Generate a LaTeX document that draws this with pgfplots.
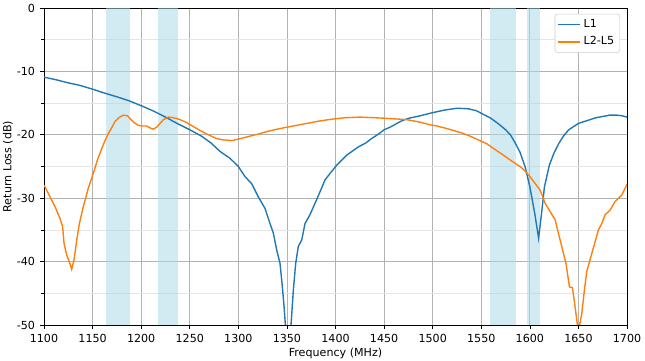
\documentclass[border=0pt]{standalone}
\usepackage{fontspec}
\setmainfont{DejaVu Sans}
\usepackage{pgfplots}
\pgfplotsset{compat=1.18}
\definecolor{tabblue}{HTML}{1F77B4}
\definecolor{taborange}{HTML}{FF7F0E}
\definecolor{bandc}{HTML}{ADD8E6}
\begin{document}
\begin{tikzpicture}[x=1pt,y=1pt]
\begin{axis}[
  at={(0,0)}, anchor=south west,
  scale only axis, width=419.8pt, height=228.2pt,
  xmin=1100, xmax=1700, ymin=-50, ymax=0,
  xtick={1100,1150,...,1700},
  ytick={-50,-40,...,0},
  minor ytick={-45,-35,...,-5},
  /pgf/number format/assume math mode=true,
  /pgf/number format/.cd, 1000 sep={}, /pgfplots/.cd,
  ticklabel style={font=\fontsize{8}{9.6}\selectfont},
  label style={font=\fontsize{8}{9.6}\selectfont},
  xlabel={Frequency (MHz)}, ylabel={Return Loss (dB)},
  xlabel style={yshift=3pt},
  ylabel style={yshift=-4pt},
  tick align=outside, tick pos=left,
  major tick length=3pt, minor tick length=1.8pt,
  tick style={black, line width=0.5pt},
  grid=both,
  major grid style={color=black!30, line width=0.6pt},
  minor grid style={color=black!10, line width=0.5pt},
  axis line style={line width=0.6pt},
  clip=true,
  legend style={at={(0.988,0.982)}, anchor=north east, draw=black!20, rounded corners=2pt,
    font=\fontsize{8}{9.6}\selectfont, row sep=1pt, inner sep=2pt},
  legend cell align=left,
  legend image code/.code={\draw[#1, line width=1pt] (0cm,0cm) -- (0.55cm,0cm);},
]
\addplot[fill=bandc, fill opacity=0.55, draw=none, forget plot] coordinates {(1164,0) (1189,0) (1189,-50) (1164,-50)} -- cycle;
\addplot[fill=bandc, fill opacity=0.55, draw=none, forget plot] coordinates {(1217,0) (1238,0) (1238,-50) (1217,-50)} -- cycle;
\addplot[fill=bandc, fill opacity=0.55, draw=none, forget plot] coordinates {(1559,0) (1586,0) (1586,-50) (1559,-50)} -- cycle;
\addplot[fill=bandc, fill opacity=0.55, draw=none, forget plot] coordinates {(1597,0) (1610,0) (1610,-50) (1597,-50)} -- cycle;

\addplot[tabblue, line width=1pt] coordinates {
(1100,-10.9) (1112,-11.3) (1125,-11.8) (1137,-12.2) (1150,-12.8) (1162,-13.4) (1175,-14.0) (1187,-14.6)
(1200,-15.4) (1212,-16.2) (1225,-17.2) (1237,-18.2) (1250,-19.2) (1262,-20.2) (1272,-21.3) (1281,-22.6)
(1291.4,-23.7) (1300,-25.0) (1306.9,-26.6) (1313.7,-27.7) (1320.6,-29.8) (1327.4,-31.6) (1332.6,-34.0)
(1336,-35.5) (1339.5,-38.2) (1342.9,-40.3) (1345.3,-44) (1347,-47) (1348.4,-50) (1351,-56) (1354.2,-50)
(1356.6,-44.5) (1359,-40.3) (1361.7,-37.6) (1365.2,-36.6) (1368.6,-34) (1373.7,-32.6) (1378.9,-30.8)
(1384,-29) (1389.2,-27.1) (1394.3,-26.1) (1401.2,-24.8) (1411.5,-23.2) (1423.5,-21.9)
(1431,-21.3) (1437,-20.6) (1444,-19.9) (1450,-19.2) (1456,-18.8) (1462,-18.3) (1468,-17.8) (1475,-17.4)
(1487,-17.0) (1500,-16.5) (1512,-16.1) (1525,-15.8) (1537,-15.9) (1545,-16.2) (1550,-16.6) (1555,-17.0) (1560,-17.4)
(1568,-18.3) (1575,-19.2) (1580,-20.0) (1585,-21.3) (1590,-22.8) (1595,-25) (1600,-28.2) (1605,-32.4)
(1609,-36.3) (1612,-32.4) (1615,-28.2) (1620,-24.8) (1625,-22.8) (1630,-21.3) (1635,-20.1) (1640,-19.2)
(1645,-18.7) (1650,-18.2) (1656,-17.9) (1662,-17.6) (1668,-17.3) (1675,-17.1) (1682,-16.9) (1690,-16.9) (1695,-17.0) (1700,-17.2)
};
\addlegendentry{L1}

\addplot[taborange, line width=1pt] coordinates {
(1100,-28.0) (1101,-28.2) (1106.2,-29.8) (1111.3,-31.3) (1116.5,-33.2) (1119.2,-34.5) (1120.6,-37.1) (1123.4,-39)
(1126,-40) (1128.5,-41.2) (1130.9,-39.7) (1133.7,-36.6) (1136.4,-34) (1140.5,-31.3) (1145.6,-28.4) (1150.7,-26.1)
(1154.9,-24.0) (1157.6,-22.9) (1162,-21.2)
(1166.2,-19.8) (1170,-18.8) (1173,-17.9) (1177,-17.3) (1181.6,-16.9) (1185.8,-17.0) (1190.2,-17.7)
(1194,-18.2) (1197,-18.5) (1201,-18.6) (1205.6,-18.6) (1209,-18.9) (1212.5,-19.1) (1216,-18.8) (1219.4,-18.2)
(1223,-17.6) (1228,-17.2) (1233,-17.3) (1238.3,-17.5) (1246,-18.0) (1253.7,-18.7) (1260.5,-19.3) (1268,-19.9)
(1277.7,-20.6) (1285,-20.8) (1293.8,-20.9) (1302,-20.6) (1312,-20.2) (1320,-19.9) (1329,-19.5) (1340,-19.1)
(1349.7,-18.8) (1360,-18.5) (1370.3,-18.2) (1384,-17.8) (1397.7,-17.5) (1410,-17.3) (1425.2,-17.2) (1440,-17.3)
(1452.7,-17.4) (1463,-17.5) (1473.3,-17.6) (1487,-18.0) (1497,-18.4) (1504,-18.6) (1512,-18.9) (1521,-19.3)
(1530,-19.7) (1538.4,-20.2) (1547,-20.8) (1555.6,-21.4) (1564,-22.3) (1572.7,-23.2) (1581,-24.1) (1589.9,-25.0)
(1595,-25.7) (1600.2,-26.6) (1605,-27.6) (1610.5,-28.7) (1615.7,-30.8) (1620.8,-32.1) (1626,-33.4)
(1629.3,-35.5) (1632.8,-37.6) (1637.2,-40.3) (1640.7,-44) (1643.8,-44.1) (1646.5,-47.1) (1648.9,-50) (1651,-50.2)
(1653.4,-48.2) (1656.1,-44.5) (1658.5,-41.6) (1661.9,-39.7) (1667.1,-36.9) (1670.5,-35) (1674,-34)
(1677.4,-32.6) (1682.5,-31.9) (1687.7,-30.5) (1694.5,-29.5) (1699.7,-27.9) (1700,-27.8)
};
\addlegendentry{L2-L5}
\end{axis}
\pgfresetboundingbox
\path[use as bounding box] (-31.68pt,-25.92pt) rectangle (432.72pt,234pt);
\end{tikzpicture}
\end{document}
